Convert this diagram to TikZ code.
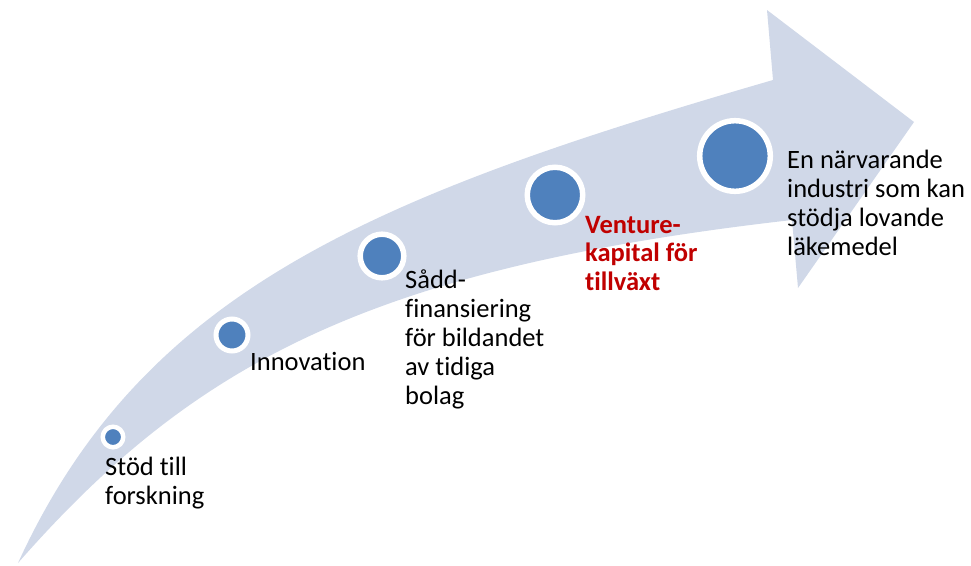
\documentclass[tikz,border=0pt]{standalone}
\usepackage{fontspec}
\setmainfont{Carlito}[Ligatures=NoCommon]
\definecolor{bandfill}{HTML}{D0D8E8}
\definecolor{dotfill}{HTML}{4F81BD}
\definecolor{accent}{HTML}{C00000}
\begin{document}
\begin{tikzpicture}[x=1pt,y=-1pt,
  dot/.style={circle, fill=dotfill, draw=white, line width=5.5pt, inner sep=0pt},
  txt/.style={anchor=base west, inner sep=0pt, align=left, font=\fontsize{26.5}{29}\selectfont},
  txtbold/.style={txt, text=accent, font=\bfseries\fontsize{26.5}{28.5}\selectfont},
  ]
\useasboundingbox (0,0) rectangle (971,565);
% curved block arrow
\fill[bandfill] (18,563) .. controls (143,290) and (373,196) .. (773,80)
  -- (767,10) -- (914,122) -- (798,288) -- (792,220)
  .. controls (370,268) and (193,363.5) .. cycle;
% milestones along the arrow
\node[dot, minimum size=20.5pt, line width=4.5pt] (d1) at (113,437) {};
\node[dot, minimum size=32pt, line width=5pt] (d2) at (232,335) {};
\node[dot, minimum size=43.6pt] (d3) at (382,256) {};
\node[dot, minimum size=55.5pt] (d4) at (555,195) {};
\node[dot, minimum size=70.6pt] (d5) at (735,156) {};
% captions (anchored at the baseline of the last line)
\node[txt] (t1) at (105,504) {Stöd till\\forskning};
\node[txt] (t2) at (250,370) {Innovation};
\node[txt] (t3) at (405,404) {Sådd-\\finansiering\\för bildandet\\av tidiga\\bolag};
\node[txtbold] (t4) at (585,290) {Venture-\\kapital för\\tillväxt};
\node[txt] (t5) at (787,255) {En närvarande\\industri som kan\\stödja lovande\\läkemedel};
\end{tikzpicture}
\end{document}
